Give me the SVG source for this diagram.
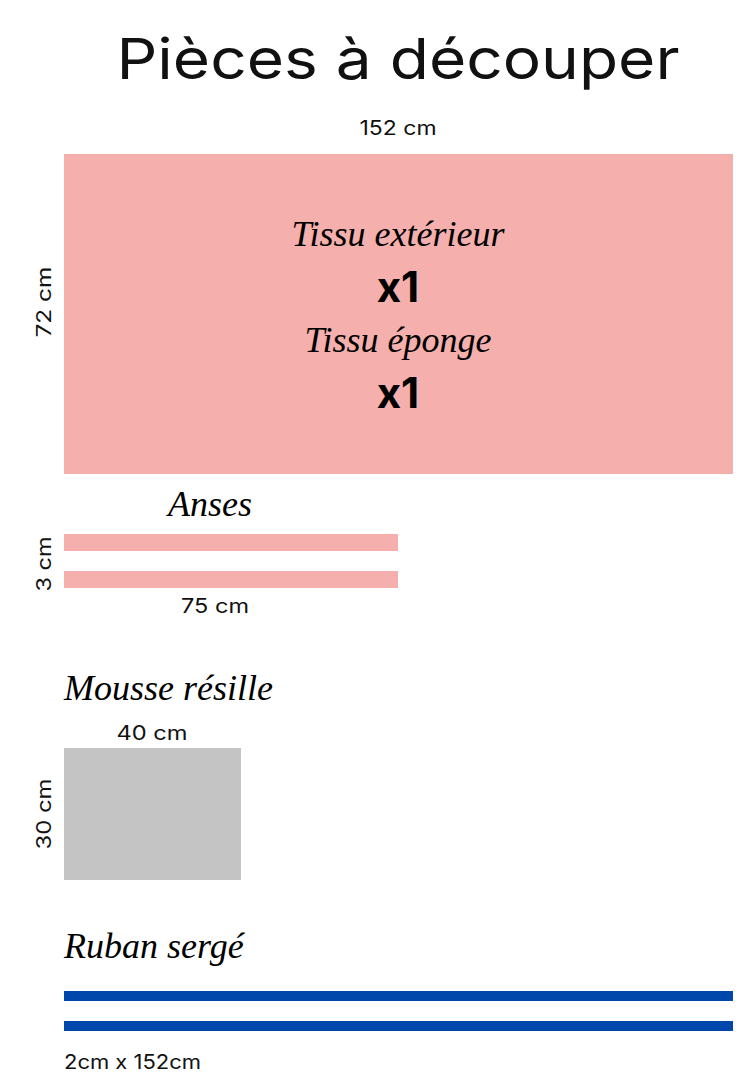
<svg xmlns="http://www.w3.org/2000/svg" width="755" height="1080" viewBox="0 0 755 1080">
<style>
.t{font-family:Inter,"Open Sans","Liberation Sans",sans-serif;fill:#111}
.dim{font-family:Inter,"Open Sans","Liberation Sans",sans-serif;font-size:20px;fill:#111}
.script{font-family:"Liberation Serif","DejaVu Serif",serif;font-style:italic;font-size:36px;fill:#000}
.big{font-family:Inter,"Open Sans","Liberation Sans",sans-serif;font-weight:700;font-size:42px;fill:#000}
.pink{fill:#F5AFAC}
.gray{fill:#C4C4C4}
.blue{fill:#0047AB}
</style>
<rect width="755" height="1080" fill="#fff"/>
<text class="t" x="398" y="79" text-anchor="middle" font-size="56" font-weight="400" textLength="563" lengthAdjust="spacingAndGlyphs">Pièces à découper</text>
<g id="tissu">
<text class="dim" x="398" y="135" text-anchor="middle" textLength="77" lengthAdjust="spacingAndGlyphs">152 cm</text>
<rect class="pink" x="64" y="154" width="669" height="320"/>
<text class="dim" transform="translate(51 302) rotate(-90)" text-anchor="middle" textLength="71" lengthAdjust="spacingAndGlyphs">72 cm</text>
<text class="script" x="398" y="246" text-anchor="middle">Tissu extérieur</text>
<text class="big" x="398" y="302" text-anchor="middle">x1</text>
<text class="script" x="398" y="352" text-anchor="middle">Tissu éponge</text>
<text class="big" x="398" y="408" text-anchor="middle">x1</text>
</g>
<g id="anses">
<text class="script" x="210" y="516" text-anchor="middle">Anses</text>
<rect class="pink" x="64" y="534" width="334" height="17"/>
<rect class="pink" x="64" y="571" width="334" height="17"/>
<text class="dim" transform="translate(51 564) rotate(-90)" text-anchor="middle" textLength="55" lengthAdjust="spacingAndGlyphs">3 cm</text>
<text class="dim" x="215" y="613" text-anchor="middle" textLength="68" lengthAdjust="spacingAndGlyphs">75 cm</text>
</g>
<g id="mousse">
<text class="script" x="64" y="700">Mousse résille</text>
<text class="dim" x="152" y="740" text-anchor="middle" textLength="71" lengthAdjust="spacingAndGlyphs">40 cm</text>
<rect class="gray" x="64" y="748" width="177" height="132"/>
<text class="dim" transform="translate(51 814) rotate(-90)" text-anchor="middle" textLength="71" lengthAdjust="spacingAndGlyphs">30 cm</text>
</g>
<g id="ruban">
<text class="script" x="64" y="958">Ruban sergé</text>
<rect class="blue" x="64" y="991" width="669" height="10"/>
<rect class="blue" x="64" y="1021" width="669" height="10"/>
<text class="dim" x="64" y="1069" textLength="137" lengthAdjust="spacingAndGlyphs">2cm x 152cm</text>
</g>
</svg>
